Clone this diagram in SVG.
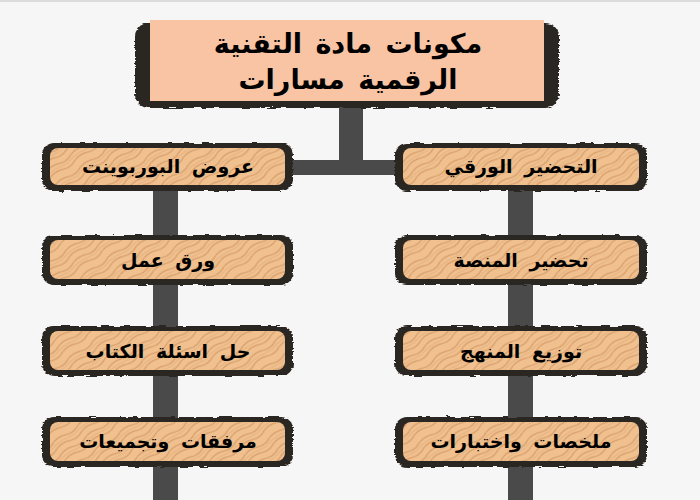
<svg xmlns="http://www.w3.org/2000/svg" width="700" height="500" viewBox="0 0 700 500">
<defs>
<style>
.bg{fill:#f6f6f6}
.bar{fill:#4a4a4a}
.frame{fill:#2c2521;filter:url(#rough)}
.wood{fill:url(#grain)}
.lbl{font-family:"DejaVu Sans","Noto Sans",sans-serif;font-weight:bold;font-size:19px;word-spacing:5px;fill:#000;text-anchor:middle;direction:rtl}
.title{font-family:"DejaVu Sans","Noto Sans",sans-serif;font-weight:bold;font-size:27px;word-spacing:4px;fill:#000;text-anchor:middle;direction:rtl}
</style>
<filter id="rough" x="-5%" y="-15%" width="110%" height="130%">
<feTurbulence type="fractalNoise" baseFrequency="0.09 0.6" numOctaves="2" seed="4" result="n"/>
<feDisplacementMap in="SourceGraphic" in2="n" scale="4" xChannelSelector="R" yChannelSelector="G"/>
</filter>
<pattern id="grain" width="30" height="30" patternUnits="userSpaceOnUse" patternTransform="rotate(-35)">
<rect width="30" height="30" fill="#f0c08f"/>
<path d="M0 3 Q8 1 15 4 T30 3 M0 10 Q8 8 15 11 T30 10 M0 17 Q8 15 15 18 T30 17 M0 24 Q8 22 15 25 T30 24" fill="none" stroke="#d69d69" stroke-width="1.2"/>
<path d="M0 6.5 Q8 5.5 15 7.5 T30 6.5 M0 20.5 Q8 19.5 15 21.5 T30 20.5" fill="none" stroke="#e2ad7c" stroke-width="0.8"/>
</pattern>
</defs>
<rect class="bg" x="0" y="0" width="700" height="500"/>
<rect x="0" y="0" width="700" height="2" fill="#dcdcdc"/>

<g id="connectors">
<rect class="bar" x="339" y="100" width="24" height="75"/>
<rect class="bar" x="288" y="160" width="115" height="15"/>
<rect class="bar" x="153" y="185" width="25" height="315"/>
<rect class="bar" x="508" y="185" width="25" height="315"/>
</g>

<g id="root">
<rect class="frame" x="135" y="23" width="424" height="85" rx="14"/>
<rect x="150" y="20" width="394" height="81" fill="#f8c4a3"/>
<text class="title" x="348" y="53">مكونات مادة التقنية</text>
<text class="title" x="348" y="89">الرقمية مسارات</text>
</g>

<g id="n-l1">
<rect class="frame" x="42" y="143" width="251" height="48" rx="12"/>
<rect class="wood" x="50" y="148" width="235" height="37" rx="8"/>
<text class="lbl" x="168" y="173">عروض البوربوينت</text>
</g>
<g id="n-l2">
<rect class="frame" x="42" y="235" width="251" height="50" rx="12"/>
<rect class="wood" x="50" y="240" width="235" height="39" rx="8"/>
<text class="lbl" x="168" y="267">ورق عمل</text>
</g>
<g id="n-l3">
<rect class="frame" x="42" y="326" width="251" height="50" rx="12"/>
<rect class="wood" x="50" y="331" width="235" height="39" rx="8"/>
<text class="lbl" x="168" y="358">حل اسئلة الكتاب</text>
</g>
<g id="n-l4">
<rect class="frame" x="42" y="417" width="251" height="50" rx="12"/>
<rect class="wood" x="50" y="422" width="235" height="39" rx="8"/>
<text class="lbl" x="168" y="448">مرفقات وتجميعات</text>
</g>

<g id="n-r1">
<rect class="frame" x="395" y="143" width="252" height="48" rx="12"/>
<rect class="wood" x="403" y="148" width="236" height="37" rx="8"/>
<text class="lbl" x="521" y="173">التحضير الورقي</text>
</g>
<g id="n-r2">
<rect class="frame" x="395" y="235" width="252" height="50" rx="12"/>
<rect class="wood" x="403" y="240" width="236" height="39" rx="8"/>
<text class="lbl" x="521" y="267">تحضير المنصة</text>
</g>
<g id="n-r3">
<rect class="frame" x="395" y="326" width="252" height="50" rx="12"/>
<rect class="wood" x="403" y="331" width="236" height="39" rx="8"/>
<text class="lbl" x="521" y="358">توزيع المنهج</text>
</g>
<g id="n-r4">
<rect class="frame" x="395" y="417" width="252" height="50" rx="12"/>
<rect class="wood" x="403" y="422" width="236" height="39" rx="8"/>
<text class="lbl" x="521" y="448">ملخصات واختبارات</text>
</g>
</svg>
